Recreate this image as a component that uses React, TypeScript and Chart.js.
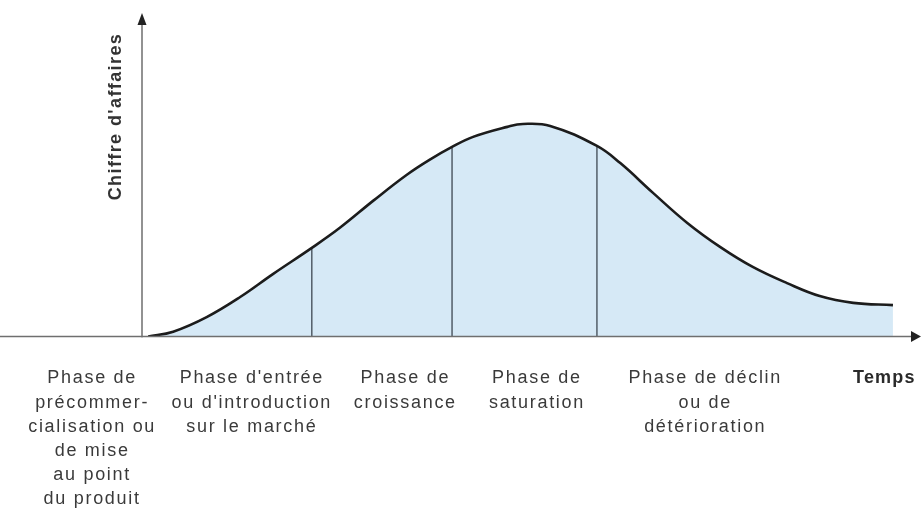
import React, { useEffect, useRef } from "react";
import { Chart, registerables } from "chart.js";

Chart.register(...registerables);

// Time (x, % of axis length) and turnover (y, % of axis height)
const timeValues = [0.8, 4.0, 8.3, 12.6, 16.8, 21.8, 25.4, 29.7, 34.0, 36.9, 39.8, 42.5, 46.9, 48.9, 52.4, 58.4, 61.4, 65.6, 70.0, 74.2, 78.4, 82.8, 87.0, 91.3, 96.4];
const salesValues = [0, 1.5, 6.0, 12.2, 19.3, 27.4, 33.6, 42.0, 50.0, 54.6, 58.6, 61.7, 64.8, 65.7, 65.1, 58.9, 53.6, 44.4, 35.1, 27.7, 21.5, 16.5, 12.5, 10.4, 9.7];

// Phase boundaries (vertical separators)
const dividerTimes = [21.8, 39.8, 58.4];
const dividerHeights = [27.4, 58.6, 59.0];

// Phase labels under the time axis
const phaseLabels: string[][] = [
  ["Phase de", "précommer-", "cialisation ou", "de mise", "au point", "du produit"],
  ["Phase d'entrée", "ou d'introduction", "sur le marché"],
  ["Phase de", "croissance"],
  ["Phase de", "saturation"],
  ["Phase de déclin", "ou de", "détérioration"],
];
const phaseCenters = [-6.4, 14.1, 33.8, 50.7, 72.3];

const xAxisTitle = "Temps";
const xAxisTitleCenter = 95.3;
const yAxisTitle = "Chiffre d'affaires";

const FONT = '"Liberation Sans", Arial, Helvetica, sans-serif';

const decorPlugin = {
  id: "decor",
  afterDatasetsDraw(chart: any) {
    const ctx = chart.ctx as CanvasRenderingContext2D;
    const xs = chart.scales.x;
    const ys = chart.scales.y;
    const x0 = xs.getPixelForValue(0);
    const y0 = ys.getPixelForValue(0);
    const xEnd = xs.getPixelForValue(100);
    const yEnd = ys.getPixelForValue(100);
    ctx.save();
    // axes lines
    ctx.strokeStyle = "#6f6f6f";
    ctx.lineWidth = 1.5;
    ctx.beginPath();
    ctx.moveTo(0, y0);
    ctx.lineTo(xEnd - 8, y0);
    ctx.moveTo(x0, y0 + 1);
    ctx.lineTo(x0, yEnd + 10);
    ctx.stroke();
    // arrow heads
    ctx.fillStyle = "#222";
    ctx.beginPath();
    ctx.moveTo(xEnd, y0);
    ctx.lineTo(xEnd - 10, y0 - 5.5);
    ctx.lineTo(xEnd - 10, y0 + 5.5);
    ctx.closePath();
    ctx.fill();
    ctx.beginPath();
    ctx.moveTo(x0, yEnd);
    ctx.lineTo(x0 - 4.5, yEnd + 12);
    ctx.lineTo(x0 + 4.5, yEnd + 12);
    ctx.closePath();
    ctx.fill();

    // y axis title
    ctx.fillStyle = "#333";
    ctx.font = `bold 18px ${FONT}`;
    ctx.textAlign = "center";
    ctx.textBaseline = "middle";
    ctx.save();
    ctx.translate(x0 - 26, ys.getPixelForValue(68.0));
    ctx.rotate(-Math.PI / 2);
    (ctx as any).letterSpacing = "1.4px";
    ctx.fillText(yAxisTitle, 0, 0);
    ctx.restore();

    // phase labels
    const firstRow = y0 + 42;
    const lineH = 24.2;
    ctx.font = `18px ${FONT}`;
    ctx.fillStyle = "#3a3a3a";
    (ctx as any).letterSpacing = "1.7px";
    phaseLabels.forEach((lines, i) => {
      const cx = xs.getPixelForValue(phaseCenters[i]);
      lines.forEach((line, j) => {
        ctx.fillText(line, cx, firstRow + j * lineH);
      });
    });
    ctx.font = `bold 18px ${FONT}`;
    ctx.fillStyle = "#2a2a2a";
    (ctx as any).letterSpacing = "1.2px";
    ctx.fillText(xAxisTitle, xs.getPixelForValue(xAxisTitleCenter), firstRow);
    ctx.restore();
  },
};

export default function App() {
  const ref = useRef<HTMLCanvasElement | null>(null);
  useEffect(() => {
    if (!ref.current) return;
    const curve = timeValues.map((t, i) => ({ x: t, y: salesValues[i] }));
    const dividers = dividerTimes.map((t, i) => ({
      type: "line" as const,
      data: [
        { x: t, y: 0 },
        { x: t, y: dividerHeights[i] },
      ],
      borderColor: "#3e4852",
      borderWidth: 1.3,
      pointRadius: 0,
      fill: false,
    }));
    const chart = new Chart(ref.current, {
      type: "line",
      data: {
        datasets: [
          {
            data: curve,
            borderColor: "#1c1c1c",
            borderWidth: 2.6,
            backgroundColor: "#d6e9f6",
            fill: "origin",
            pointRadius: 0,
            tension: 0.4,
          },
          ...dividers,
        ],
      },
      options: {
        animation: false,
        responsive: false,
        maintainAspectRatio: false,
        layout: { padding: { left: 142, right: 2, top: 13, bottom: 172.5 } },
        scales: {
          x: { type: "linear", min: 0, max: 100, display: false },
          y: { type: "linear", min: 0, max: 100, display: false },
        },
        plugins: {
          legend: { display: false },
          tooltip: { enabled: false },
          filler: { drawTime: "beforeDatasetsDraw" },
        } as any,
      },
      plugins: [decorPlugin],
    });
    return () => chart.destroy();
  }, []);
  return (
    <div style={{ position: "fixed", left: 0, top: 0, width: 923, height: 509, background: "#fff" }}>
      <canvas ref={ref} width={923} height={509} style={{ width: 923, height: 509, display: "block" }} />
    </div>
  );
}
